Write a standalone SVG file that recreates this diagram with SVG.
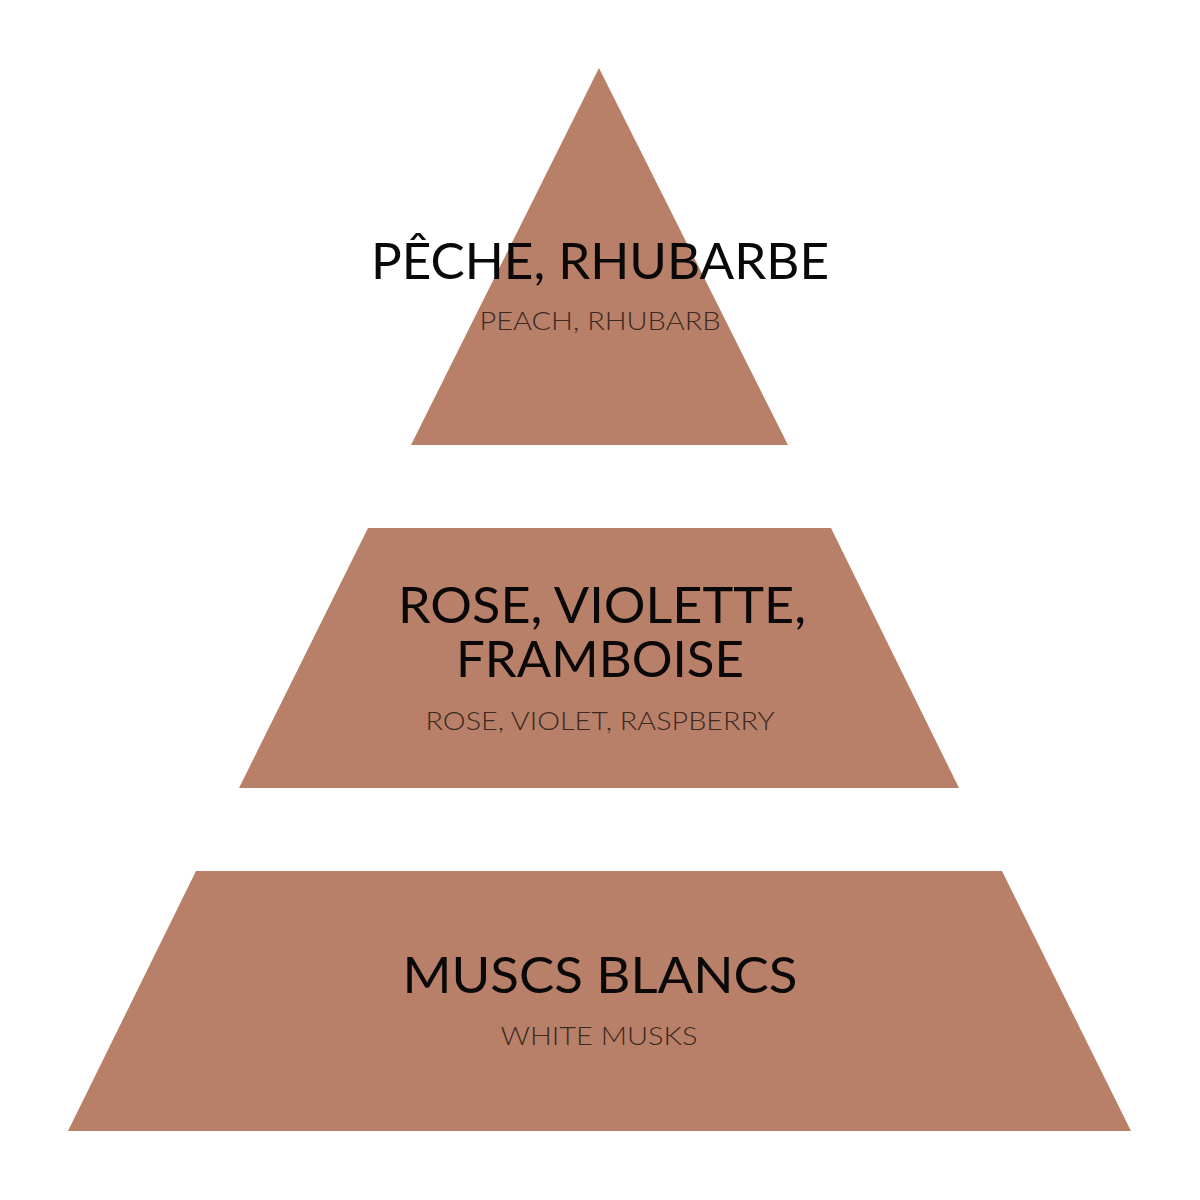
<svg xmlns="http://www.w3.org/2000/svg" width="1200" height="1200" viewBox="0 0 1200 1200">
<style>
.tier{fill:#B98069}
.main{font-family:Lato,"Liberation Sans",sans-serif;font-size:50px;fill:#0a0808;text-anchor:middle}
.sub{font-family:Lato,"Liberation Sans",sans-serif;font-weight:300;font-size:26px;fill:#3b2a22;text-anchor:middle}
</style>
<rect width="1200" height="1200" fill="#ffffff"/>
<g id="top">
<polygon class="tier" points="599,68 788,445 411,445"/>
<text class="main" x="600" y="279" textLength="458" lengthAdjust="spacingAndGlyphs">PÊCHE, RHUBARBE</text>
<text class="sub" x="600" y="330" textLength="241" lengthAdjust="spacingAndGlyphs">PEACH, RHUBARB</text>
</g>
<g id="middle">
<polygon class="tier" points="368,528 831,528 959,788 239,788"/>
<text class="main" x="602" y="623" textLength="408" lengthAdjust="spacingAndGlyphs">ROSE, VIOLETTE,</text>
<text class="main" x="600" y="677" textLength="288" lengthAdjust="spacingAndGlyphs">FRAMBOISE</text>
<text class="sub" x="600" y="730" textLength="349" lengthAdjust="spacingAndGlyphs">ROSE, VIOLET, RASPBERRY</text>
</g>
<g id="bottom">
<polygon class="tier" points="196,871 1002,871 1131,1131 68,1131"/>
<text class="main" x="600" y="993" textLength="395" lengthAdjust="spacingAndGlyphs">MUSCS BLANCS</text>
<text class="sub" x="599" y="1045" textLength="197" lengthAdjust="spacingAndGlyphs">WHITE MUSKS</text>
</g>
<g id="connectors"></g>
</svg>
